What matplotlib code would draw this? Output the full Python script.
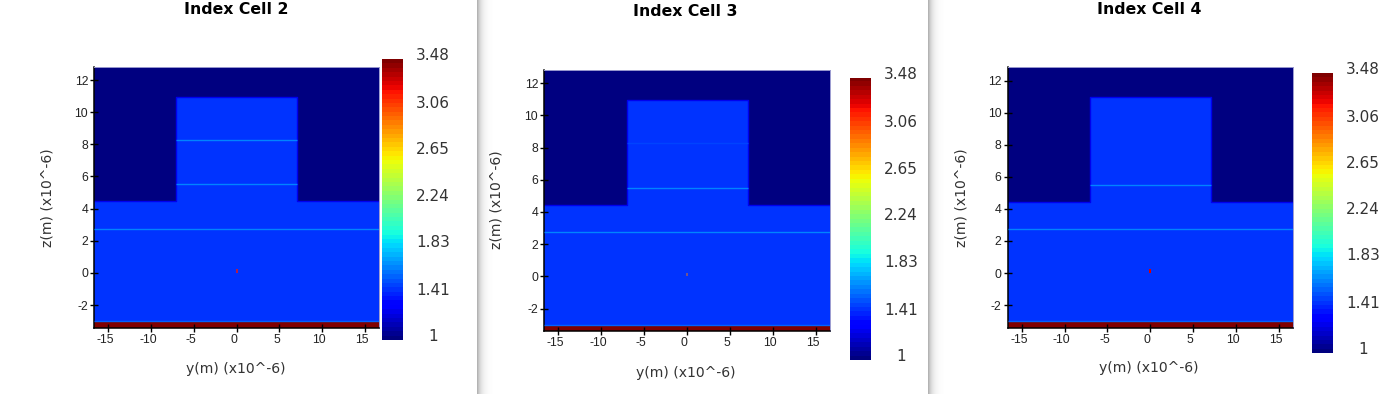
import numpy as np
import matplotlib
matplotlib.use("Agg")
import matplotlib.pyplot as plt
from matplotlib.transforms import ScaledTranslation

plt.rcParams["axes.unicode_minus"] = False

# Structure (in units of 1e-6 m)
y_edges = [-16.65, -7.05, 7.05, 16.65]
z_edges = [-3.41, -3.0, 4.45, 10.96, 12.83]
index_rows = [
    [3.48, 3.48, 3.48],
    [1.44, 1.44, 1.44],
    [1.0, 1.44, 1.0],
    [1.0, 1.0, 1.0],
]
ridge_y = [-16.65, -7.05, -7.05, 7.05, 7.05, 16.65]
ridge_z = [4.45, 4.45, 10.96, 10.96, 4.45, 4.45]
outline_index = 1.27

titles = ["Index Cell 2", "Index Cell 3", "Index Cell 4"]

# thin layers: (z, y from, y to, index), per cell
layers_cell2 = [(8.25, -7.05, 7.05, 1.62), (5.51, -7.05, 7.05, 1.62), (2.75, -16.65, 16.65, 1.62), (-3.0, -16.65, 16.65, 1.58)]
layers_cell3 = [(8.25, -7.05, 7.05, 1.5), (5.51, -7.05, 7.05, 1.62), (2.75, -16.65, 16.65, 1.62), (-3.0, -16.65, 16.65, 1.58)]
layers_cell4 = [(5.51, -7.05, 7.05, 1.62), (2.75, -16.65, 16.65, 1.62), (-3.0, -16.65, 16.65, 1.58)]
layers = [layers_cell2, layers_cell3, layers_cell4]

dot_y = 0.0
dot_z = 0.12
dot_size = 0.24
dot_index = [3.2, 2.9, 3.25]
dot_alpha = [0.7, 0.45, 1.0]

y_ticks = [-15, -10, -5, 0, 5, 10, 15]
z_ticks = [-2, 0, 2, 4, 6, 8, 10, 12]
bar_ticks = [1, 1.41, 1.83, 2.24, 2.65, 3.06, 3.48]
bar_labels = ["1", "1.41", "1.83", "2.24", "2.65", "3.06", "3.48"]
vmin = 1.0
vmax = 3.48

# pixel layout: left, right, top, bottom
W, H = 1389, 394
plot_boxes = [(94.3, 379, 66.7, 327.7), (544.3, 830, 69.7, 331.3), (1007.7, 1292.7, 67.3, 327.7)]
bar_boxes = [(382, 403, 59, 340), (850, 871, 78, 360), (1312, 1333, 73, 352.7)]
title_pos = [(236, 9), (685.7, 12), (1149, 10)]
xlabel_pos = [(235.7, 369), (685.7, 372.7), (1149, 368)]
ylabel_pos = [(47.7, 198), (497, 200), (961.7, 198)]
bar_label_x = [433, 901, 1363]
shadow_x = [477, 928]

cmap = plt.get_cmap("jet", 64)
norm = plt.Normalize(vmin, vmax)

fig = plt.figure(figsize=(W / 100, H / 100), dpi=100, facecolor="white")


def add_axes_px(left, right, top, bottom):
    return fig.add_axes([left / W, 1 - bottom / H, (right - left) / W, (bottom - top) / H])


# shadows between the windows
bg = fig.add_axes([0, 0, 1, 1], zorder=-1)
bg.axis("off")
for sx in shadow_x:
    fade = 1 - 0.3 * np.exp(-np.arange(16) / 4.0)
    bg.imshow(fade[None, :], cmap="gray", vmin=0, vmax=1, extent=(sx, sx + 16, H, 0), aspect="auto")
bg.set_xlim(0, W)
bg.set_ylim(H, 0)

for i in range(3):
    ax = add_axes_px(*plot_boxes[i])
    ax.pcolormesh(y_edges, z_edges, np.array(index_rows), cmap=cmap, norm=norm)
    ax.plot(ridge_y, ridge_z, color=cmap(norm(outline_index)), lw=1.0, zorder=2)
    for z, y0, y1, n in layers[i]:
        ax.hlines(z, y0, y1, color=cmap(norm(n)), lw=1.0, zorder=3)
    ax.bar([dot_y], [dot_size], width=dot_size, bottom=dot_z - dot_size / 2,
           color=cmap(norm(dot_index[i])), alpha=dot_alpha[i], zorder=4)
    ax.set_xlim(y_edges[0], y_edges[-1])
    ax.set_ylim(z_edges[0], z_edges[-1])
    ax.set_xticks(y_ticks)
    ax.set_yticks(z_ticks)
    ax.tick_params(direction="inout", length=5.8, width=1.0, color="black",
                   labelsize=8.8, labelcolor="#222222", pad=1.5)
    for lab in ax.get_xticklabels() + ax.get_yticklabels():
        lab.set_fontfamily("Liberation Sans")
    for lab in ax.get_xticklabels():
        lab.set_transform(lab.get_transform() + ScaledTranslation(-3 / 100, 0, fig.dpi_scale_trans))
    for side in ["left", "bottom"]:
        ax.spines[side].set_linewidth(1.1)
        ax.spines[side].set_color("black")
    for side in ["top", "right"]:
        ax.spines[side].set_linewidth(0.7)
        ax.spines[side].set_color("#9a9ad0")

    cax = add_axes_px(*bar_boxes[i])
    ramp = np.linspace(vmin, vmax, 64)[:, None]
    cax.imshow(ramp, cmap=cmap, norm=norm, origin="lower", aspect="auto",
               extent=(0, 1, vmin, vmax), interpolation="nearest")
    cax.set_xticks([])
    cax.set_ylim(vmin, vmax)
    cax.set_yticks([])
    for side in cax.spines.values():
        side.set_visible(False)
    for v, lab in zip(bar_ticks, bar_labels):
        frac = (v - vmin) / (vmax - vmin)
        top = bar_boxes[i][2]
        bottom = bar_boxes[i][3]
        py = bottom - frac * (bottom - top) - 3.3
        fig.text(bar_label_x[i] / W, 1 - py / H, lab, ha="center", va="center",
                 fontsize=11, color="#333333")

    fig.text(title_pos[i][0] / W, 1 - title_pos[i][1] / H, titles[i], ha="center", va="center",
             fontsize=11.3, fontweight="bold", color="black")
    fig.text(xlabel_pos[i][0] / W, 1 - xlabel_pos[i][1] / H, "y(m) (x10^-6)", ha="center", va="center",
             fontsize=10.1, color="#333333")
    fig.text(ylabel_pos[i][0] / W, 1 - ylabel_pos[i][1] / H, "z(m) (x10^-6)", ha="center", va="center",
             rotation=90, fontsize=10.1, color="#333333")

fig.savefig("out.png", dpi=100, facecolor="white")
